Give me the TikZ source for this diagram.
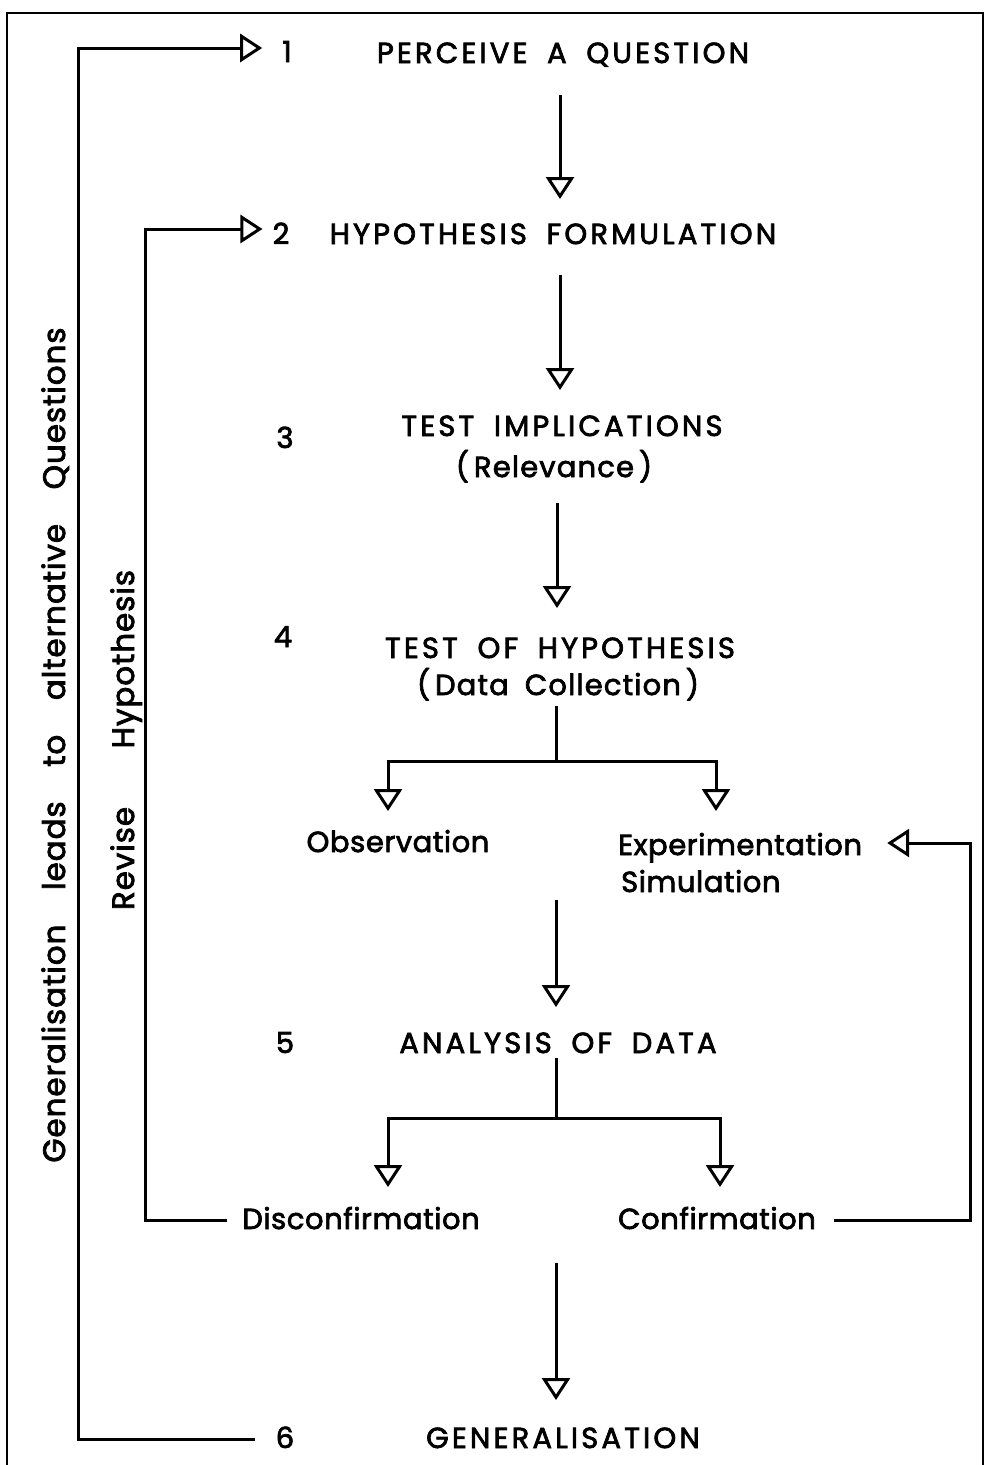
\documentclass[tikz,border=0pt]{standalone}
\usepackage{fontspec}
\setmainfont{Poppins}[WordSpace=1.8, FakeBold=2.5]
\usetikzlibrary{arrows.meta}
\newcommand{\capfont}{\fontsize{29}{32}\selectfont\addfontfeature{LetterSpace=11}}
\newcommand{\lowfont}{\fontsize{29}{32}\selectfont\addfontfeature{LetterSpace=2}}
\newcommand{\parfont}{\fontsize{29}{32}\selectfont\addfontfeature{LetterSpace=4}}
\newcommand{\sidefont}{\fontsize{31}{34}\selectfont\addfontfeature{LetterSpace=3}}
\tikzset{
  lbl/.style={inner sep=0pt, anchor=base, font=\capfont},
  low/.style={inner sep=0pt, anchor=base, font=\lowfont},
  par/.style={inner sep=0pt, anchor=base, font=\parfont},
  num/.style={inner sep=0pt, anchor=base, font=\fontsize{29}{32}\selectfont},
  side/.style={inner sep=0pt, anchor=base, rotate=90, font=\sidefont},
  ln/.style={line width=3pt},
  arr/.style={line width=3pt, -{Triangle[open, length=22pt, width=28pt, line width=3pt]}},
}
\begin{document}
\begin{tikzpicture}[x=1pt, y=-1pt]
\useasboundingbox (0,0) rectangle (985,1465);
% frame (three sides)
\draw[line width=2.5pt] (7,1466) -- (7,13) -- (983,13) -- (983,1466);

% numbers
\node[num] (n1) at (287,62) {1};
\node[num] (n2) at (281,244) {2};
\node[num] (n3) at (285,448) {3};
\node[num] (n4) at (283,647) {4};
\node[num] (n5) at (285,1053) {5};
\node[num] (n6) at (285,1448) {6};

% main texts
\node[lbl] (t1) at (563,63) {PERCEIVE A QUESTION};
\node[lbl] (t2) at (553,244) {HYPOTHESIS FORMULATION};
\node[lbl] (t3) at (562,436) {TEST IMPLICATIONS};
\node[par] (t3b) at (554,477) {(\hspace{5pt}Relevance\hspace{5pt})};
\node[lbl] (t4) at (560,658) {TEST OF HYPOTHESIS};
\node[par] (t4b) at (558,695) {(\hspace{5pt}Data Collection\hspace{5pt})};
\node[low] (obs) at (398,852) {Observation};
\node[low, anchor=base west] (exp) at (618,855) {Experimentation};
\node[low, anchor=base west] (sim) at (621,892) {Simulation};
\node[lbl] (t5) at (558,1053) {ANALYSIS OF DATA};
\node[low] (dis) at (361,1229) {Disconfirmation};
\node[low] (con) at (717,1229) {Confirmation};
\node[lbl] (t6) at (563,1448) {GENERALISATION};

% side labels
\node[side] (gq) at (65,745) {Generalisation\hspace{18pt} leads\hspace{18pt} to\hspace{18pt} alternative\hspace{18pt} Questions};
\node[side] (rh) at (134,740) {Revise\hspace{42pt} Hypothesis};

% spine coordinates
\coordinate (s12a) at (560,95);  \coordinate (s12b) at (560,199);
\coordinate (s23a) at (560,275); \coordinate (s23b) at (560,390);
\coordinate (s34a) at (557,503); \coordinate (s34b) at (557,608);
\coordinate (b4) at (556,706);   \coordinate (b4m) at (556,761);
\coordinate (ob) at (388,811);   \coordinate (eb) at (716,811);
\coordinate (s45a) at (556,900); \coordinate (s45b) at (556,1007);
\coordinate (b5) at (556,1058);  \coordinate (b5m) at (556,1118);
\coordinate (db) at (388,1187);  \coordinate (cb) at (720,1187);
\coordinate (s56a) at (556,1263); \coordinate (s56b) at (556,1400);

% main flow
\draw[arr] (s12a) -- (s12b);
\draw[arr] (s23a) -- (s23b);
\draw[arr] (s34a) -- (s34b);
\draw[ln] (b4) -- (b4m);
\draw[arr] (b4m) -| (ob);
\draw[arr] (b4m) -| (eb);
\draw[arr] (s45a) -- (s45b);
\draw[ln] (b5) -- (b5m);
\draw[arr] (b5m) -| (db);
\draw[arr] (b5m) -| (cb);
\draw[arr] (s56a) -- (s56b);

% feedback loops
\coordinate (g1) at (78,1439);
\coordinate (h1) at (145,1220);
\coordinate (c1) at (970,1220);
\draw[arr] ([xshift=-21pt]n6.base west |- g1) -- (g1) |- ([xshift=-20pt]n1.west |- 0,48);
\draw[arr] ([xshift=-15pt]dis.west |- h1) -- (h1) |- ([xshift=-10pt]n2.west |- 0,229);
\draw[arr] ([xshift=18pt]con.east |- c1) -- (c1) |- ([xshift=25pt]exp.east |- 0,843);
\end{tikzpicture}
\end{document}
